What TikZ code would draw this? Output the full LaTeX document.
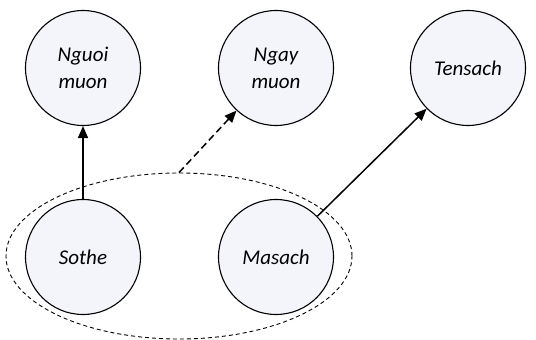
\documentclass[tikz,border=0pt]{standalone}
\usepackage{fontspec}
\setmainfont{Carlito}
\usetikzlibrary{arrows.meta,shapes.geometric}
\definecolor{cfill}{RGB}{243,245,251}
\tikzset{
  ent/.style={circle, draw=black, line width=1.1pt, fill=cfill, minimum size=115pt, inner sep=0pt,
    align=center, font=\fontsize{21}{27}\selectfont\itshape},
  grpbox/.style={ellipse, draw=black, dashed, dash pattern=on 4pt off 3pt, line width=0.9pt,
    minimum width=346pt, minimum height=166pt, inner sep=0pt},
  arr/.style={line width=1.5pt, -{Triangle[length=12pt,width=10pt]}},
}
\begin{document}
\begin{tikzpicture}[x=1pt,y=-1pt]
\useasboundingbox (0,0) rectangle (536,340);
\node[grpbox] (grp) at (179,256) {};
\node[ent] (nguoi) at (83,68) {Nguoi\\muon};
\node[ent] (ngay) at (276,68) {Ngay\\muon};
\node[ent] (tensach) at (468,68) {Tensach};
\node[ent] (sothe) at (83,257) {Sothe};
\node[ent] (masach) at (276,257) {Masach};
\draw[arr] (sothe) -- (nguoi);
\draw[arr, dash pattern=on 7pt off 4pt] (grp.north) -- (ngay);
\draw[arr] (masach) -- (tensach);
\end{tikzpicture}
\end{document}
